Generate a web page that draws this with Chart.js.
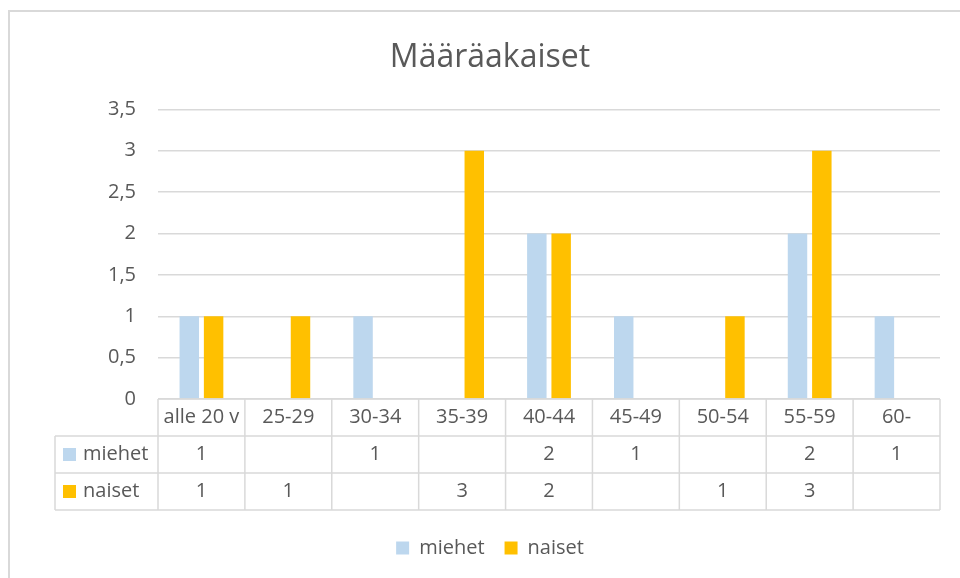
<!DOCTYPE html>
<html>
<head>
<meta charset="utf-8">
<script src="https://cdn.jsdelivr.net/npm/chart.js@4/dist/chart.umd.min.js"></script>
<style>
html,body{margin:0;padding:0;background:#fff;}
#wrap{width:960px;height:578px;}
</style>
</head>
<body>
<div id="wrap"><canvas id="c" width="960" height="578"></canvas></div>
<script>
const titleText = 'Määräakaiset';
const categories = ['alle 20 v', '25-29', '30-34', '35-39', '40-44', '45-49', '50-54', '55-59', '60-'];
const seriesNames = ['miehet', 'naiset'];
const miehet = [1, null, 1, null, 2, 1, null, 2, 1];
const naiset = [1, 1, null, 3, 2, null, 1, 3, null];
const seriesColors = ['#BDD7EE', '#FFC000'];

const FONT = "'Open Sans', sans-serif";
const TXT = '#595959';
const LINE = '#D9D9D9';

const frame = {
  id: 'frame',
  beforeDraw(chart) {
    const ctx = chart.ctx;
    ctx.save();
    ctx.fillStyle = '#fff';
    ctx.fillRect(0, 0, chart.width, chart.height);
    ctx.fillStyle = LINE;
    ctx.fillRect(8, 10, 2, chart.height);
    ctx.fillRect(8, 10, chart.width, 2);
    ctx.restore();
  }
};

const dataTable = {
  id: 'dataTable',
  afterDraw(chart) {
    const ctx = chart.ctx;
    const xs = chart.scales.x;
    const area = chart.chartArea;
    const n = categories.length;
    const cw = (area.right - area.left) / n;
    const top = area.bottom;
    const rowH = 37;
    const leftX = 55;
    ctx.save();
    ctx.strokeStyle = LINE;
    ctx.lineWidth = 1.5;
    ctx.beginPath();
    ctx.moveTo(area.left, top); ctx.lineTo(area.right, top);
    for (let r = 1; r <= 3; r++) {
      ctx.moveTo(leftX, top + r * rowH); ctx.lineTo(area.right, top + r * rowH);
    }
    for (let i = 0; i <= n; i++) {
      const x = area.left + i * cw;
      ctx.moveTo(x, top); ctx.lineTo(x, top + 3 * rowH);
    }
    ctx.moveTo(leftX, top + rowH); ctx.lineTo(leftX, top + 3 * rowH);
    ctx.stroke();

    ctx.fillStyle = TXT;
    ctx.font = '20px ' + FONT;
    ctx.textAlign = 'center';
    ctx.textBaseline = 'middle';
    const rows = [miehet, naiset];
    categories.forEach((c, i) => {
      const cx = xs.getPixelForValue(i);
      ctx.fillText(c, cx, top + rowH / 2);
      rows.forEach((arr, r) => {
        if (arr[i] !== null && arr[i] !== undefined) {
          ctx.fillText(String(arr[i]), cx, top + rowH * (r + 1) + rowH / 2);
        }
      });
    });
    ctx.textAlign = 'left';
    seriesNames.forEach((name, r) => {
      const cy = top + rowH * (r + 1) + rowH / 2;
      ctx.fillStyle = seriesColors[r];
      ctx.fillRect(63, cy - 6.5, 13, 13);
      ctx.fillStyle = TXT;
      ctx.fillText(name, 83, cy);
    });
    ctx.restore();
  }
};

new Chart(document.getElementById('c'), {
  type: 'bar',
  data: {
    labels: categories,
    datasets: [
      { label: seriesNames[0], data: miehet, backgroundColor: seriesColors[0], categoryPercentage: 0.56, barPercentage: 0.8 },
      { label: seriesNames[1], data: naiset, backgroundColor: seriesColors[1], categoryPercentage: 0.56, barPercentage: 0.8 }
    ]
  },
  options: {
    responsive: false,
    animation: false,
    devicePixelRatio: 1,
    layout: { padding: { left: 40, right: 20, top: 10, bottom: 10 } },
    plugins: {
      title: {
        display: true,
        text: titleText,
        color: TXT,
        font: { family: FONT, size: 32, weight: 'normal' },
        padding: { top: 29, bottom: 32 }
      },
      legend: {
        position: 'bottom',
        labels: {
          color: TXT,
          font: { family: FONT, size: 20 },
          boxWidth: 13,
          boxHeight: 13,
          padding: 20
        }
      },
      tooltip: { enabled: false }
    },
    scales: {
      x: {
        ticks: { display: false },
        grid: { display: false },
        border: { display: false },
        afterFit(scale) { scale.height = 119; }
      },
      y: {
        min: 0,
        max: 3.5,
        ticks: {
          stepSize: 0.5,
          color: TXT,
          padding: 22,
          font: { family: FONT, size: 20 },
          callback: v => String(v).replace('.', ',')
        },
        grid: { color: LINE, lineWidth: 1.5, drawTicks: false },
        border: { display: false },
        afterFit(scale) { scale.width = 118; }
      }
    }
  },
  plugins: [frame, dataTable]
});
</script>
</body>
</html>
